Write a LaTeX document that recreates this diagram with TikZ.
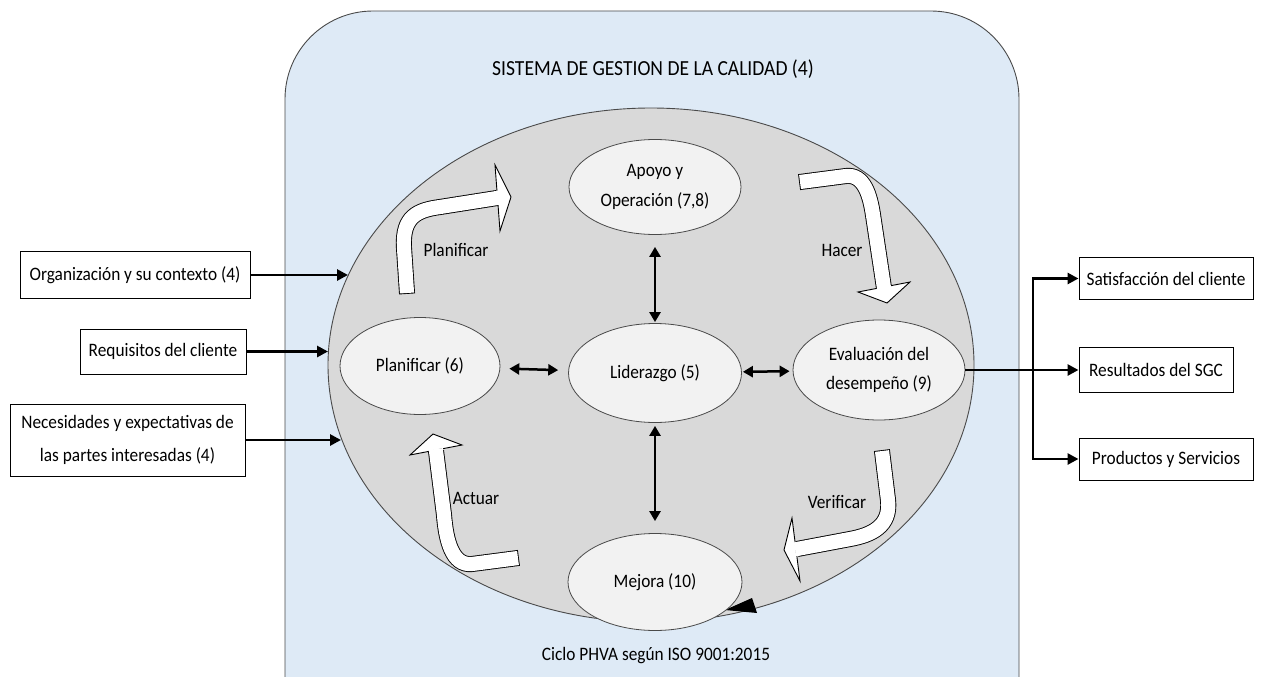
\documentclass[tikz,border=0pt]{standalone}
\usepackage{fontspec}
\setmainfont{Carlito}[FakeStretch=0.91]
\usetikzlibrary{shapes.geometric,arrows.meta}

\definecolor{sysblue}{HTML}{DEEAF6}
\definecolor{ringgray}{HTML}{D9D9D9}
\definecolor{bubblefill}{HTML}{F2F2F2}
\definecolor{edgegray}{HTML}{4A4A4A}

% white bent block arrow: #1 centre line of the shaft, #2 #3 #4 head corners
\newcommand\bentarrow[4]{%
  \draw[line width=16pt, black, shorten <=-0.9pt] #1;
  \filldraw[fill=white, draw=black, line width=0.9pt, line join=miter] #2 -- #3 -- #4 -- cycle;
  \draw[line width=14.2pt, white, shorten >=-2pt] #1;
}

\tikzset{
  txt/.style={font=\fontsize{19}{22}\selectfont, text=black},
  bubble/.style={ellipse, draw=edgegray, fill=bubblefill, line width=0.8pt,
    inner sep=0pt, align=center, font=\fontsize{19}{29.5}\selectfont},
  inbox/.style={draw=black, fill=white, line width=1pt, inner sep=0pt,
    align=center, font=\fontsize{19}{22}\selectfont},
  link/.style={line width=2.8pt, -{Triangle[length=11pt,width=11pt]}},
  dlink/.style={line width=2.5pt, {Triangle[length=10pt,width=11pt]}-{Triangle[length=10pt,width=11pt]}},
}

\begin{document}
\begin{tikzpicture}[x=1pt,y=-1pt]
\useasboundingbox (0,0) rectangle (1264,677);
\clip (0,0) rectangle (1264,677);

% quality management system frame
\draw[fill=sysblue, draw=edgegray, line width=0.9pt, rounded corners=88pt]
  (285,11) rectangle (1019,770);
\node[txt, font=\fontsize{21.5}{24}\selectfont] (title) at (653,69) {SISTEMA DE GESTION DE LA CALIDAD (4)};
\node[txt] (cycle) at (656,656) {Ciclo PHVA según ISO 9001:2015};

% PHVA ring
\node[ellipse, draw=edgegray, fill=ringgray, line width=0.9pt, inner sep=0pt,
  minimum width=646pt, minimum height=514pt] (ring) at (651,365) {};
\fill[black] (725,610) -- (752,598) -- (757,613) -- cycle;

% process bubbles
\node[bubble, minimum width=172pt, minimum height=95pt] (apoyo) at (655,187) {Apoyo y\\Operación (7,8)};
\node[bubble, minimum width=160pt, minimum height=97pt] (plan) at (420,366) {Planificar (6)};
\node[bubble, minimum width=173pt, minimum height=99pt] (lid) at (655,373) {Liderazgo (5)};
\node[bubble, minimum width=172pt, minimum height=100pt] (eval) at (879,370) {Evaluación del\\desempeño (9)};
\node[bubble, minimum width=174pt, minimum height=97pt] (mejora) at (655,582) {Mejora (10)};

\draw[dlink, shorten <=12pt, shorten >=1pt] (apoyo) -- (lid);
\draw[dlink, shorten <=9pt, shorten >=10pt] (plan) -- (lid);
\draw[dlink, shorten <=1pt, shorten >=3pt] (lid) -- (eval);
\draw[dlink, shorten <=3pt, shorten >=12pt] (lid) -- (mejora);

% PHVA block arrows
\bentarrow{(407,293) -- (404,248) .. controls (402,216) and (418,210) .. (440,207) -- (497,198)}
  {(495,165)}{(511,197)}{(500,231)}
\bentarrow{(800,182) -- (846,176) .. controls (864,174) and (870,195) .. (873,215) -- (884,288)}
  {(858,292)}{(887,303)}{(910,282)}
\bentarrow{(518,558) -- (472,564) .. controls (452,566) and (446,540) .. (444,515) -- (436,451)}
  {(410,455)}{(433,434)}{(462,445)}
\bentarrow{(882,451) -- (888,500) .. controls (891,526) and (872,535) .. (850,539) -- (797,549)}
  {(792,518)}{(784,550)}{(800,581)}

\node[txt] (lp) at (456,250) {Planificar};
\node[txt] (lh) at (842,250) {Hacer};
\node[txt] (la) at (476,498) {Actuar};
\node[txt] (lv) at (837,502) {Verificar};

% inputs
\node[inbox, minimum width=230pt, minimum height=47pt] (org) at (135,275) {Organización y su contexto (4)};
\node[inbox, minimum width=166pt, minimum height=45pt] (req) at (163,351.5) {Requisitos del cliente};
\node[inbox, minimum width=235pt, minimum height=72pt, font=\fontsize{19}{33}\selectfont] (nec) at (127.5,440) {Necesidades y expectativas de\\las partes interesadas (4)};

\coordinate (inO) at (348,275);
\coordinate (inR) at (328,351.5);
\coordinate (inN) at (341,440);
\draw[link] (org) -- (inO);
\draw[link] (req) -- (inR);
\draw[link] (nec) -- (inN);

% outputs
\node[inbox, minimum width=174pt, minimum height=42pt] (sat) at (1166,278.5) {Satisfacción del cliente};
\node[inbox, minimum width=154pt, minimum height=45pt] (res) at (1156,370) {Resultados del SGC};
\node[inbox, minimum width=174pt, minimum height=42pt] (prod) at (1166,459) {Productos y Servicios};

\coordinate (jtop) at (1033,278.5);
\coordinate (jbot) at (1033,459);
\draw[link] (eval) -- (res);
\draw[line width=2.8pt, line cap=rect] (jtop) -- (jbot);
\draw[link] (jtop) -- (sat);
\draw[link] (jbot) -- (prod);
\end{tikzpicture}
\end{document}
